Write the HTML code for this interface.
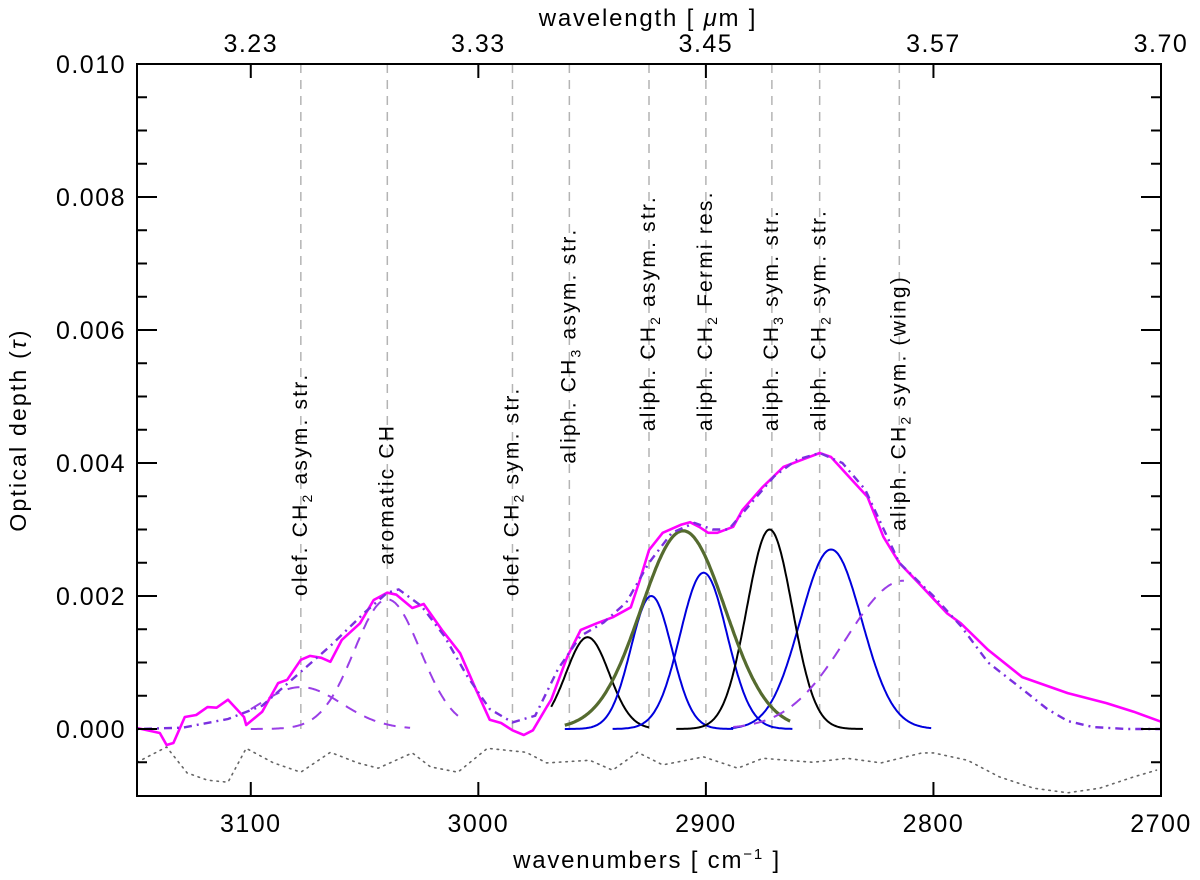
<!DOCTYPE html>
<html><head><meta charset="utf-8"><style>
html,body{margin:0;padding:0;background:#fff}
svg{display:block}
text{font-family:"Liberation Sans",sans-serif;fill:#000}
</style></head><body>
<svg id="chart" width="1200" height="880">
<g id="grid"></g>
<g id="series"></g>
<g id="axes"></g>
</svg>
<script>
// ---- data ----
const obsW=[3150,3140,3137,3134,3129,3124,3119,3115,3110,3103,3102,3095,3088,3084,3078,3074,3069,3065,3060,3052,3046,3040,3036,3029,3024,3016,3008,3001,2995,2990,2985,2980,2976,2970,2968,2961,2955,2948,2941,2933,2929,2925,2919,2911,2907,2903,2899,2895,2888,2884,2875,2866,2860,2850,2845,2837,2829,2822,2815,2805,2794,2788,2776,2761,2741,2724,2712,2700];
const obsT=[0.015,-0.06,-0.24,-0.21,0.18,0.21,0.33,0.32,0.44,0.18,0.06,0.26,0.69,0.74,1.04,1.10,1.07,1.01,1.34,1.59,1.94,2.05,2.02,1.82,1.88,1.49,1.14,0.59,0.14,0.09,-0.02,-0.09,-0.02,0.33,0.44,1.08,1.49,1.59,1.68,1.83,2.24,2.69,2.95,3.07,3.11,3.04,2.95,2.95,3.04,3.29,3.64,3.94,4.02,4.15,4.09,3.79,3.49,2.89,2.50,2.14,1.74,1.59,1.19,0.78,0.54,0.39,0.26,0.11];
const fitW=[3150,3130,3110,3095,3080,3065,3050,3040,3035,3025,3015,3005,2995,2985,2975,2965,2955,2945,2935,2925,2915,2905,2897,2890,2880,2870,2860,2850,2840,2830,2815,2800,2788,2776,2761,2750,2741,2730,2715,2700];
const fitT=[0,0.02,0.15,0.35,0.8,1.25,1.75,2.05,2.1,1.85,1.4,0.8,0.3,0.1,0.2,0.9,1.4,1.6,1.9,2.5,2.95,3.1,3.0,3.0,3.4,3.8,4.05,4.15,4.0,3.6,2.5,2.0,1.55,1.0,0.6,0.3,0.12,0.03,0.0,0.0];
const resW=[3150,3137,3128,3119,3110,3102,3090,3078,3065,3053,3044,3029,3021,3009,2996,2979,2970,2951,2941,2930,2919,2901,2886,2875,2853,2838,2823,2805,2800,2785,2771,2756,2741,2727,2712,2702];
const resT=[-0.5,-0.27,-0.66,-0.77,-0.8,-0.29,-0.51,-0.65,-0.35,-0.51,-0.59,-0.36,-0.57,-0.65,-0.29,-0.35,-0.51,-0.47,-0.62,-0.35,-0.54,-0.42,-0.59,-0.44,-0.5,-0.44,-0.51,-0.36,-0.36,-0.47,-0.72,-0.89,-0.96,-0.89,-0.72,-0.62];
// gaussian components
const gCenter=[2952,2924,2901,2845,2872,2910,3078,3040,2813];
const gPeak=[1.38,2.0,2.35,2.7,3.0,2.98,0.63,1.95,2.23];
const gSigma=[9.5,9,10.3,13.5,10,18.5,18,14.5,25.5];
const gFrom=[2968,2962,2941,2889,2913,2962,3100,3100,2888];
const gTo=[2925,2888,2862,2801,2831,2863,3030,3009,2813];
const gKind=['black','blue','blue','blue','black','olive','dash','dash','dash'];
const lineW=[3078,3040,2985,2960,2925,2900,2871,2850,2815];
const lineLabels=[['olef. CH','2',' asym. str.'],['aromatic CH','',''],['olef. CH','2',' sym. str.'],['aliph. CH','3',' asym. str.'],['aliph. CH','2',' asym. str.'],['aliph. CH','2',' Fermi res.'],['aliph. CH','3',' sym. str.'],['aliph. CH','2',' sym. str.'],['aliph. CH','2',' sym. (wing)']];
const labelTau=[2.0,2.47,2.0,3.99,4.48,4.48,4.48,4.48,2.98];
const yTicks=[0,2,4,6,8,10];
const xTicks=[3100,3000,2900,2800,2700];
const topLabels=['3.23','3.33','3.45','3.57','3.70'];
// ---- scales ----
const L=137,R=1161,T=64,B=796;
const X=w=>L+(3150-w)*(R-L)/450;
const Y=t=>729-t*66.5;
const NS='http://www.w3.org/2000/svg';
function mk(tag,attrs,parent){const e=document.createElementNS(NS,tag);for(const k in attrs)e.setAttribute(k,attrs[k]);parent.appendChild(e);return e;}
const grid=document.getElementById('grid'),ser=document.getElementById('series'),ax=document.getElementById('axes');
lineW.forEach((w,i)=>{
  const l=mk('line',{x1:X(w),x2:X(w),y1:T,y2:729,stroke:'#b4b4b4','stroke-width':1.5,'stroke-dasharray':'9,7'},grid);
  
  
  const t=mk('text',{x:0,y:0,'font-size':21,'letter-spacing':'2.2',transform:`translate(${X(w)+6},${Y(labelTau[i])}) rotate(-90)`},grid);
  
  
  const p=lineLabels[i];
  const a=document.createElementNS(NS,'tspan');a.textContent=p[0];t.appendChild(a);
  if(p[1]){const s=document.createElementNS(NS,'tspan');s.setAttribute('font-size',14);s.setAttribute('dy',5);s.textContent=p[1];t.appendChild(s);
  const c=document.createElementNS(NS,'tspan');c.setAttribute('dy',-5);c.textContent=p[2];t.appendChild(c);}
});
function path(ws,ts){return ws.map((w,i)=>(i?'L':'M')+X(w).toFixed(1)+','+Y(ts[i]).toFixed(1)).join(' ');}
let e=mk('path',{d:path(resW,resT),fill:'none',stroke:'#666','stroke-width':1.6,'stroke-dasharray':'1.5,5','stroke-linecap':'round'},ser);


const styles={black:{stroke:'#000','stroke-width':2},blue:{stroke:'#0000dd','stroke-width':2},olive:{stroke:'#556b2f','stroke-width':3.2},dash:{stroke:'#9a3ee6','stroke-width':2,'stroke-dasharray':'12,9'}};
gCenter.forEach((c,i)=>{
  const ws=[],ts=[];
  for(let w=gFrom[i];w>=gTo[i]-0.01;w-=0.5){ws.push(w);ts.push(gPeak[i]*Math.exp(-((w-c)**2)/(2*gSigma[i]**2)));}
  const g=mk('path',Object.assign({d:path(ws,ts),fill:'none'},styles[gKind[i]]),ser);
  
  
});
e=mk('path',{d:path(obsW,obsT),fill:'none',stroke:'#ff00ff','stroke-width':2.6,'stroke-linejoin':'round'},ser);


e=mk('path',{d:path(fitW,fitT),fill:'none',stroke:'#7b2fe0','stroke-width':2.4,'stroke-dasharray':'2,5,8,5'},ser);


e=mk('rect',{x:L,y:T,width:R-L,height:B-T,fill:'none',stroke:'#000','stroke-width':2},ax);


for(let v=-1;v<=10;v+=0.5){
  const y=Y(v);if(y<T+1||y>B-1)continue;
  const len=(Math.abs(v%2)<1e-9)?20:10;
  mk('line',{x1:L,x2:L+len,y1:y,y2:y,stroke:'#000','stroke-width':2},ax);
  mk('line',{x1:R,x2:R-len,y1:y,y2:y,stroke:'#000','stroke-width':2},ax);
}
yTicks.forEach(v=>{const t=mk('text',{x:L-11,y:Y(v)+9,'font-size':25,'letter-spacing':'1.5','text-anchor':'end'},ax);t.textContent=(v/1000).toFixed(3);
  });
xTicks.forEach((w,i)=>{
  mk('line',{x1:X(w),x2:X(w),y1:B,y2:B-14,stroke:'#000','stroke-width':2},ax);
  mk('line',{x1:X(w),x2:X(w),y1:T,y2:T+14,stroke:'#000','stroke-width':2},ax);
  const t=mk('text',{x:X(w),y:B+36,'font-size':25,'letter-spacing':'1.5','text-anchor':'middle'},ax);t.textContent=w;
  
  const u=mk('text',{x:X(w),y:T-12,'font-size':25,'letter-spacing':'1.5','text-anchor':'middle'},ax);u.textContent=topLabels[i];
  
});
</script>
<div style="position:absolute;left:0;top:0;width:1200px;height:880px;pointer-events:none">
<svg width="1200" height="880">
<text x="647" y="868" font-size="24" letter-spacing="1.8" text-anchor="middle">wavenumbers [ cm<tspan font-size="15" dy="-9">−1</tspan><tspan dy="9"> ]</tspan></text>
<text x="648" y="26" font-size="24" letter-spacing="1.8" text-anchor="middle">wavelength [ <tspan font-style="italic">μ</tspan>m ]</text>
<text transform="translate(26,430) rotate(-90)" font-size="23" letter-spacing="2.2" text-anchor="middle">Optical depth (<tspan font-style="italic">τ</tspan>)</text>
</svg></div>
</body></html>
